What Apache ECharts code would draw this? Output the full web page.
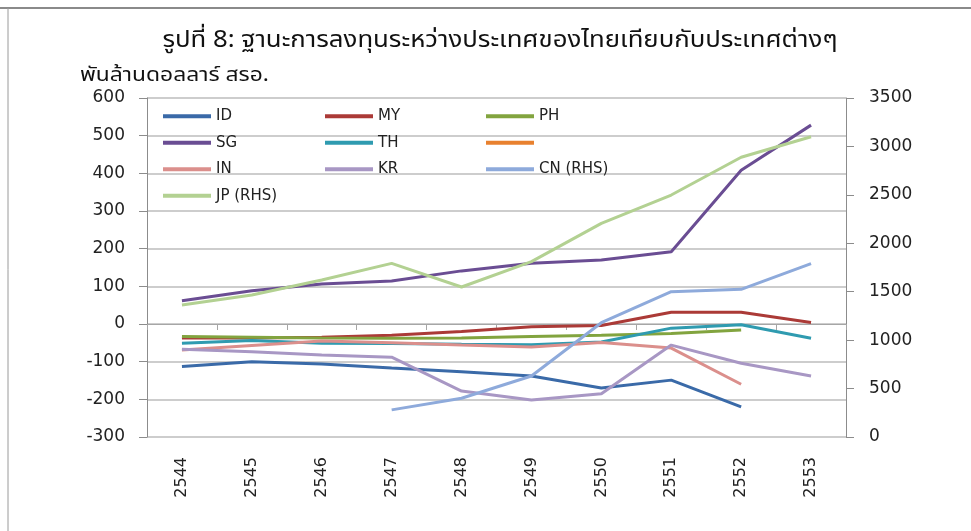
<!DOCTYPE html>
<html>
<head>
<meta charset="utf-8">
<script src="https://cdn.jsdelivr.net/npm/echarts@6/dist/echarts.min.js"></script>
<style>
  html, body { margin: 0; padding: 0; background: #fff; }
  #chart { width: 971px; height: 531px; }
</style>
</head>
<body>
<div id="chart"></div>
<script>
const years = ["2544", "2545", "2546", "2547", "2548", "2549", "2550", "2551", "2552", "2553"];
const leftTicks = [-300, 600, 100];
const rightTicks = [0, 3500, 500];

const idVals = [-113, -100, -106, -117, -127, -138, -170, -149, -220, null];
const myVals = [-37, -37, -35, -30, -20, -7, -4, 31, 31, 4];
const phVals = [-33, -35, -37, -38, -37, -33, -30, -25, -16, null];
const sgVals = [62, 88, 106, 114, 141, 161, 170, 192, 408, 528];
const thVals = [-51, -44, -51, -52, -54, -55, -48, -11, -2, -38];
const blankVals = [];
const inVals = [-69, -57, -45, -50, -56, -61, -49, -64, -160, null];
const krVals = [-67, -74, -82, -88, -178, -202, -185, -56, -104, -138];
const cnVals = [null, null, null, 280, 400, 630, 1180, 1500, 1525, 1790];
const jpVals = [1363, 1466, 1621, 1793, 1549, 1810, 2206, 2498, 2888, 3100];

const FONT = "'DejaVu Sans', 'Noto Sans', sans-serif";
const THAI = "'Noto Sans Thai', 'Noto Sans', 'DejaVu Sans', sans-serif";

function line(name, data, color, rhs) {
  return {
    name: name,
    type: "line",
    data: data,
    yAxisIndex: rhs ? 1 : 0,
    xAxisIndex: 0,
    symbol: "none",
    connectNulls: false,
    lineStyle: { width: 3, color: color },
    itemStyle: { color: color }
  };
}

function legendCol(x, names) {
  return {
    left: x,
    top: 103,
    orient: "vertical",
    icon: "rect",
    itemWidth: 48,
    itemHeight: 4,
    itemGap: 10,
    selectedMode: false,
    data: names,
    textStyle: { fontFamily: FONT, fontSize: 15, color: "#222", lineHeight: 16.5 }
  };
}

const chart = echarts.init(document.getElementById("chart"));
chart.setOption({
  animation: false,
  backgroundColor: "#fff",
  graphic: [
    { type: "line", shape: { x1: 0, y1: 8, x2: 971, y2: 8 }, style: { stroke: "#8a8a8a", lineWidth: 2 } },
    { type: "line", shape: { x1: 8, y1: 8, x2: 8, y2: 531 }, style: { stroke: "#9a9a9a", lineWidth: 1 } },
    {
      type: "text", x: 500, y: 42, scaleX: 1.12,
      style: {
        text: "รูปที่ 8: ฐานะการลงทุนระหว่างประเทศของไทยเทียบกับประเทศต่างๆ",
        font: "23px " + THAI, fill: "#111", align: "center", verticalAlign: "middle"
      }
    },
    {
      type: "text", x: 80, y: 77, scaleX: 1.2,
      style: { text: "พันล้านดอลลาร์ สรอ.", font: "19px " + THAI, fill: "#111", align: "left", verticalAlign: "middle" }
    }
  ],
  legend: [
    legendCol(158, ["ID", "SG", "IN", "JP (RHS)"]),
    legendCol(320, ["MY", "TH", "KR"]),
    legendCol(481, ["PH", " ", "CN (RHS)"])
  ],
  grid: { left: 147, right: 125, top: 98, bottom: 94 },
  xAxis: [
    {
      type: "category",
      data: years,
      position: "bottom",
      boundaryGap: true,
      axisLine: { show: false, onZero: false },
      axisTick: { show: false },
      axisLabel: { rotate: 90, margin: 20, fontFamily: FONT, fontSize: 16, color: "#222" }
    },
    {
      type: "category",
      data: years,
      position: "top",
      boundaryGap: true,
      axisLine: { show: true, onZero: true, onZeroAxisIndex: 0, lineStyle: { color: "#a6a6a6", width: 1 } },
      axisTick: { show: true, inside: true, length: 6, lineStyle: { color: "#a6a6a6" } },
      axisLabel: { show: false }
    }
  ],
  yAxis: [
    {
      type: "value",
      min: leftTicks[0],
      max: leftTicks[1],
      interval: leftTicks[2],
      axisLine: { show: true, lineStyle: { color: "#8c8c8c" } },
      axisTick: { show: true, length: 8, lineStyle: { color: "#8c8c8c" } },
      axisLabel: { margin: 22, fontFamily: FONT, fontSize: 17, color: "#222" },
      splitLine: { show: true, lineStyle: { color: "#bdbdbd", width: 1.5 } }
    },
    {
      type: "value",
      min: rightTicks[0],
      max: rightTicks[1],
      interval: rightTicks[2],
      position: "right",
      axisLine: { show: true, lineStyle: { color: "#8c8c8c" } },
      axisTick: { show: true, length: 8, lineStyle: { color: "#8c8c8c" } },
      axisLabel: { margin: 23, fontFamily: FONT, fontSize: 17, color: "#222", formatter: v => String(v) },
      splitLine: { show: false }
    }
  ],
  series: [
    line("ID", idVals, "#3a6aa8"),
    line("MY", myVals, "#ab3a37"),
    line("PH", phVals, "#82a43f"),
    line("SG", sgVals, "#6a4d93"),
    line("TH", thVals, "#2f9bb0"),
    line(" ", blankVals, "#e8812f"),
    line("IN", inVals, "#db8f8c"),
    line("KR", krVals, "#a897c4"),
    line("CN (RHS)", cnVals, "#8eaadb", true),
    line("JP (RHS)", jpVals, "#b3d192", true)
  ]
});
</script>
</body>
</html>
